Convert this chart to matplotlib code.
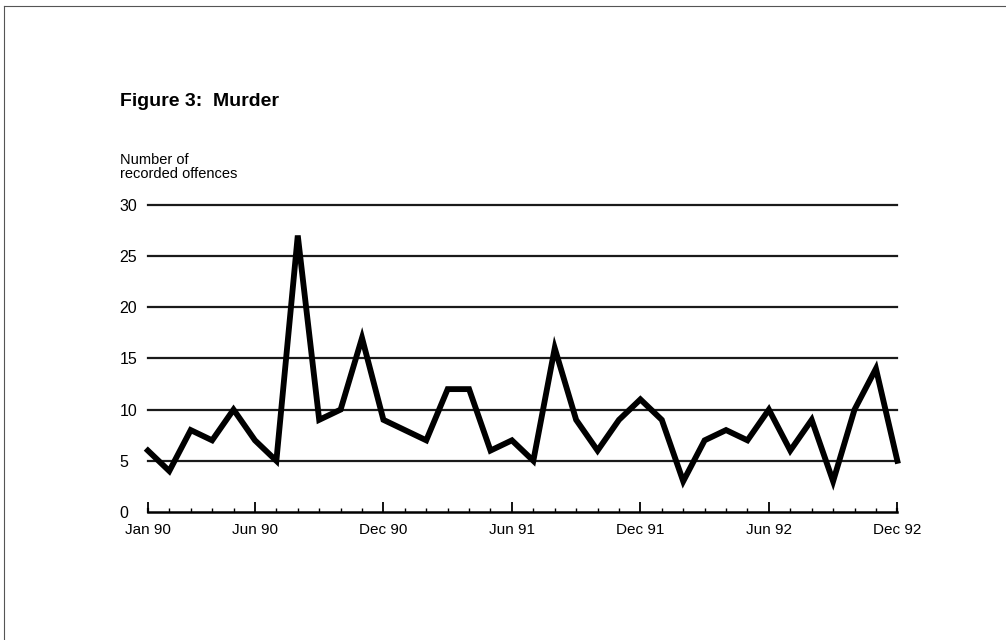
'''Figure 3 : Murder - recorded offences per month, Jan 90 to Dec 92'''

import matplotlib
matplotlib.use('Agg')
import matplotlib.pyplot as plt
from matplotlib.lines import Line2D

plt.rcParams['font.family'] = ['Liberation Sans', 'DejaVu Sans']

months = list(range(36))
offences = [6, 4, 8, 7, 10, 7, 5, 27, 9, 10, 17, 9,
            8, 7, 12, 12, 6, 7, 5, 16, 9, 6, 9, 11,
            9, 3, 7, 8, 7, 10, 6, 9, 3, 10, 14, 5]
major_pos = [0, 5, 11, 17, 23, 29, 35]
major_labels = ['Jan 90', 'Jun 90', 'Dec 90', 'Jun 91', 'Dec 91', 'Jun 92', 'Dec 92']
y_ticks = [0, 5, 10, 15, 20, 25, 30]

fig = plt.figure(figsize=(10.06, 6.4), dpi=100)
ax = fig.add_axes([0.147, 0.2, 0.745, 0.48])

# grille horizontale
for y in y_ticks[1:]:
    ax.axhline(y, color='#1a1a1a', linewidth=1.6, zorder=1, clip_on=False)

ax.plot(months, offences, color='black', linewidth=4.2, solid_joinstyle='miter',
        zorder=3, clip_on=False)

ax.set_xlim(0, 35)
ax.set_ylim(0, 30)
ax.set_yticks(y_ticks)
ax.set_xticks(major_pos)
ax.set_xticklabels(major_labels, fontsize=11)
ax.set_xticks(months, minor=True)
ax.tick_params(axis='x', which='major', direction='in', length=7, width=1.3, pad=8)
ax.tick_params(axis='x', which='minor', direction='in', length=3, width=1)
ax.tick_params(axis='y', length=0, pad=0)
for lab in ax.get_yticklabels():
    lab.set_horizontalalignment('left')
    lab.set_fontsize(11.5)
    lab.set_x(-0.038)

for side in ['top', 'right', 'left']:
    ax.spines[side].set_visible(False)
ax.spines['bottom'].set_linewidth(1.8)
ax.plot([0, 0], [0, 0.33], color='black', linewidth=1.6, clip_on=False, zorder=4)
ax.plot([35, 35], [0, 0.33], color='black', linewidth=1.6, clip_on=False, zorder=4)

fig.text(0.119, 0.835, 'Figure 3:  Murder', fontsize=14, fontweight='bold')
fig.text(0.119, 0.722, 'Number of\nrecorded offences', fontsize=10.5, linespacing=1.0)

# cadre de la page scannee
fig.add_artist(Line2D([0.004, 0.004], [0.0, 0.991], color='#555555', linewidth=0.8))
fig.add_artist(Line2D([0.004, 1.0], [0.991, 0.991], color='#555555', linewidth=0.8))

fig.savefig('out.png', dpi=100)
